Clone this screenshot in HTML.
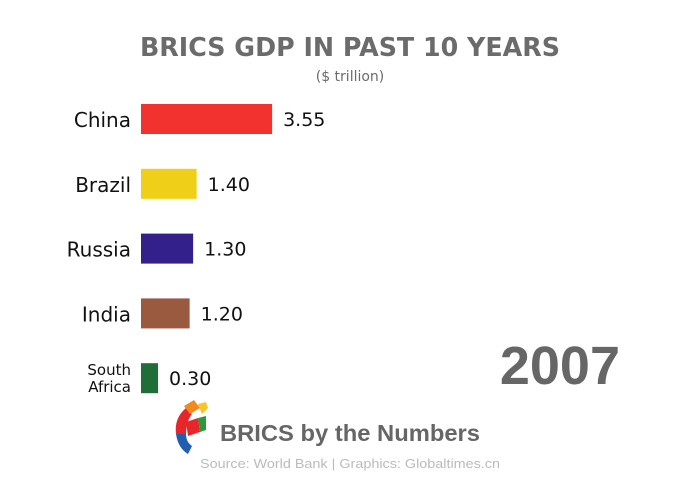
<!DOCTYPE html>
<html><head><meta charset="utf-8"><style>
body{margin:0;width:700px;height:479px;background:#fff;overflow:hidden;font-family:"Liberation Sans",sans-serif}
svg text{font-family:"DejaVu Sans","Liberation Sans",sans-serif}
svg text.lib{font-family:"Liberation Sans",sans-serif}
</style></head><body>
<svg id="chart" width="700" height="479">
<text x="140" y="56" textLength="420" lengthAdjust="spacingAndGlyphs" font-size="26" font-weight="bold" fill="#6b6b6b">BRICS GDP IN PAST 10 YEARS</text>
<text x="350" y="81" text-anchor="middle" font-size="14" fill="#6b6b6b">($ trillion)</text>
<text class="lib" x="620" y="384" text-anchor="end" font-size="54" font-weight="bold" fill="#666">2007</text>
<g>
<path d="M186 408 q-12 10 -10 26 l10 0 q0 -12 6 -20z" fill="#e8262a"/>
<path d="M176 434 q2 14 12 20 l4 -8 q-6 -4 -6 -12z" fill="#1f5eb0"/>
<path d="M186 422 l12 -4 l2 14 l-12 4z" fill="#e8262a"/>
<path d="M198 418 l8 -2 l0 14 l-6 2z" fill="#2a9a3a"/>
<path d="M184 406 l10 -6 l6 8 l-10 6z" fill="#f08a1e"/>
<path d="M198 404 l8 -2 l2 6 l-6 6z" fill="#f7c52a"/>
</g>
<text class="lib" x="220" y="441" textLength="260" lengthAdjust="spacingAndGlyphs" font-size="23" font-weight="bold" fill="#666">BRICS by the Numbers</text>
<text class="lib" x="200" y="468" textLength="300" lengthAdjust="spacingAndGlyphs" font-size="12.5" fill="#bbb">Source: World Bank  |  Graphics: Globaltimes.cn</text>
<g id="bars"></g>
</svg>
<script>
const countries=["China","Brazil","Russia","India","South Africa"];
const gdp=[3.55,1.40,1.30,1.20,0.30];
const colors=["#f2322e","#efcf18","#33208a","#9a5a40","#1f6e38"];
const x0=141,rowTop=104,rowStep=64.8,barH=30;
function xw(v){return 6.5+v*35.1;}
function yRow(i){return rowTop+i*rowStep;}
const g=document.getElementById('bars');
const ns="http://www.w3.org/2000/svg";
countries.forEach((c,i)=>{
 const y=yRow(i);
 const r=document.createElementNS(ns,'rect');
 r.setAttribute('x',x0);r.setAttribute('y',y);r.setAttribute('width',xw(gdp[i]));r.setAttribute('height',barH);r.setAttribute('fill',colors[i]);
 
 
 g.appendChild(r);
 const v=document.createElementNS(ns,'text');
 v.setAttribute('x',x0+xw(gdp[i])+11);v.setAttribute('y',y+22);v.setAttribute('font-size','19');v.setAttribute('fill','#111');
 v.textContent=gdp[i].toFixed(2);
 
 
 g.appendChild(v);
 const t=document.createElementNS(ns,'text');
 t.setAttribute('text-anchor','end');t.setAttribute('fill','#111');
 
 
 if(c==="South Africa"){
  t.setAttribute('font-size','15');
  ["South","Africa"].forEach((w,k)=>{const s=document.createElementNS(ns,'tspan');s.setAttribute('x',131);s.setAttribute('y',y+12+k*17);s.textContent=w;t.appendChild(s);});
 } else {
  t.setAttribute('x',131);t.setAttribute('y',y+23);t.setAttribute('font-size','20');t.textContent=c;
 }
 g.appendChild(t);
});
</script>
</body></html>
